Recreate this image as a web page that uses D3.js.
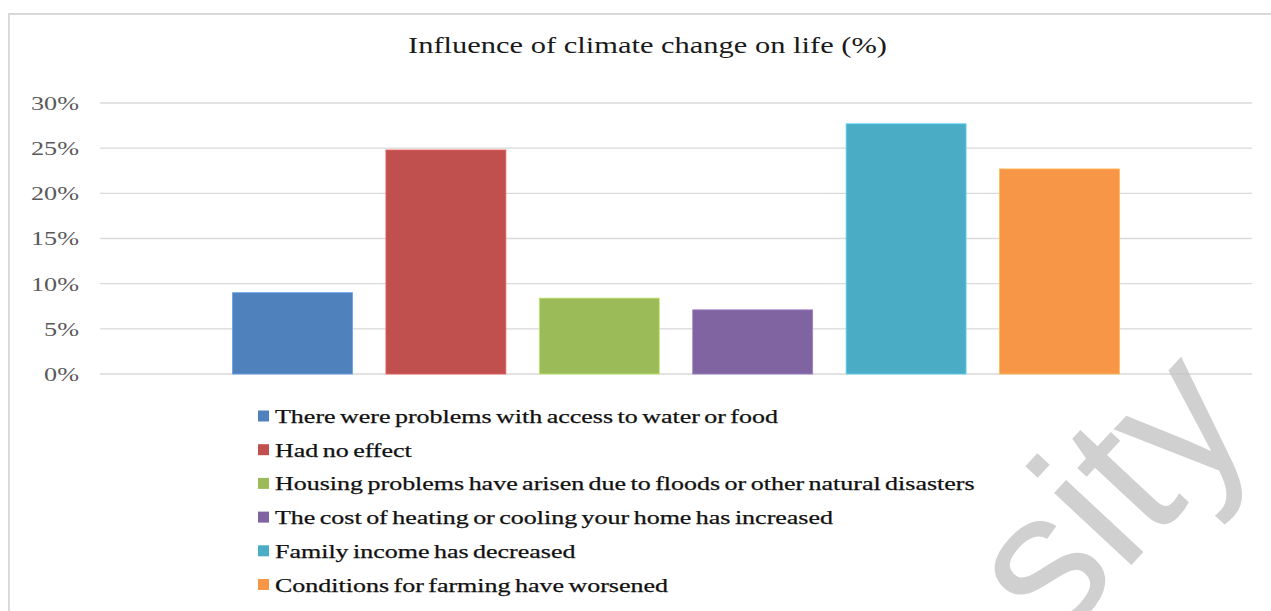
<!DOCTYPE html>
<html>
<head>
<meta charset="utf-8">
<script src="https://cdn.jsdelivr.net/npm/d3@7"></script>
<style>
  html, body { margin: 0; padding: 0; background: #ffffff; }
  svg { display: block; }
</style>
</head>
<body>
<svg id="chart" width="1271" height="611"></svg>
<script>
// ---- data ----
const title = "Influence of climate change on life (%)";
const categories = [
  "There were problems with access to water or food",
  "Had no effect",
  "Housing problems have arisen due to floods or other natural disasters",
  "The cost of heating or cooling your home has increased",
  "Family income has decreased",
  "Conditions for farming have worsened"
];
const values = [9.0, 24.8, 8.4, 7.1, 27.7, 22.7];
const colors = ["#4F81BD", "#C0504D", "#9BBB59", "#8064A2", "#4BACC6", "#F79646"];
const yTicks = [0, 5, 10, 15, 20, 25, 30];
const watermark = "sity";

// ---- layout ----
const svg = d3.select("#chart");
const W = 1271, H = 611;
const plot = { left: 100, right: 1252, top: 103, bottom: 374 };
const serif = "Liberation Serif, Times New Roman, serif";

// border
svg.append("path")
  .attr("d", `M9,${H} L9,14 L${W},14`)
  .attr("fill", "none").attr("stroke", "#d9d9d9").attr("stroke-width", 2);

const x = d3.scaleBand().domain(categories)
  .range([plot.left, plot.right])
  .paddingInner(0.218).paddingOuter(0.864);
const y = d3.scaleLinear().domain([0, 30]).range([plot.bottom, plot.top]);

// gridlines
svg.append("g").selectAll("line").data(yTicks).join("line")
  .attr("x1", plot.left).attr("x2", plot.right)
  .attr("y1", d => y(d)).attr("y2", d => y(d))
  .attr("stroke", "#d9d9d9").attr("stroke-width", 1.3);

// y axis labels
const yAxis = d3.axisLeft(y).tickValues(yTicks).tickSize(0).tickPadding(0)
  .tickFormat(d => d + "%");
const yg = svg.append("g").attr("transform", `translate(79,0)`).call(yAxis);
yg.select(".domain").remove();
yg.selectAll("text")
  .attr("font-family", serif)
  .attr("font-size", 19).attr("fill", "#595959").attr("dy", "0.34em");
(function(){
  const nodes = yg.selectAll("text").nodes();
  const ref = nodes[nodes.length - 1].getComputedTextLength();
  const f = 48 / ref;
  nodes.forEach(n => {
    const w = n.getComputedTextLength();
    d3.select(n).attr("textLength", w * f).attr("lengthAdjust", "spacingAndGlyphs");
  });
})();

// bars
svg.append("g").selectAll("rect").data(values).join("rect")
  .attr("x", (d, i) => x(categories[i]))
  .attr("width", x.bandwidth())
  .attr("y", d => y(d))
  .attr("height", d => y(0) - y(d))
  .attr("fill", (d, i) => colors[i])
  .attr("stroke", (d, i) => d3.color(colors[i]).brighter(0.6))
  .attr("stroke-width", 0.8);

// title
svg.append("text")
  .attr("x", 647.5).attr("y", 53)
  .attr("text-anchor", "middle")
  .attr("font-family", serif)
  .attr("font-size", 23).attr("fill", "#1a1a1a")
  .attr("textLength", 479).attr("lengthAdjust", "spacingAndGlyphs")
  .text(title);

// legend
const rows = svg.append("g").selectAll("g").data(categories).join("g")
  .attr("transform", (d, i) => `translate(258,${423 + i * 33.7})`);
rows.append("rect")
  .attr("x", 0).attr("y", -12.5).attr("width", 11).attr("height", 11)
  .attr("fill", (d, i) => colors[i]);
const ltexts = rows.append("text")
  .attr("x", 17).attr("y", 0)
  .attr("font-family", serif)
  .attr("font-size", 19).attr("fill", "#111111")
  .attr("stroke", "#111111").attr("stroke-width", 0.25)
  .attr("word-spacing", -1.5)
  .text(d => d);
(function(){
  const nodes = ltexts.nodes();
  const f = 503 / nodes[0].getComputedTextLength();
  nodes.forEach(n => {
    const w = n.getComputedTextLength();
    d3.select(n).attr("textLength", w * f).attr("lengthAdjust", "spacingAndGlyphs");
  });
})();

// watermark
svg.append("text")
  .attr("transform", "translate(1054,648) rotate(-47)")
  .attr("font-family", "Liberation Sans, Arial, sans-serif")
  .attr("font-size", 200)
  .attr("fill", "#c4c4c4").attr("fill-opacity", 0.8)
  .text(watermark);
</script>
</body>
</html>
